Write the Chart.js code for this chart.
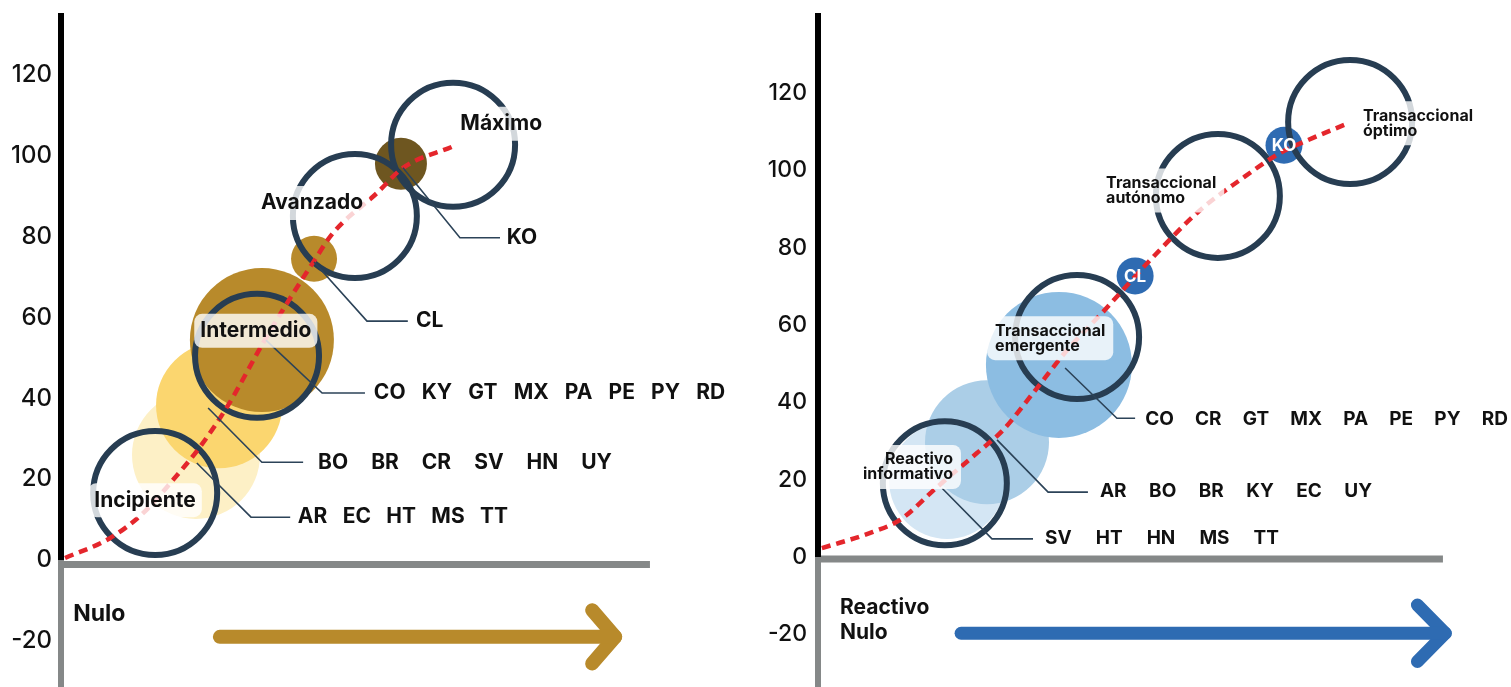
<!DOCTYPE html>
<html>
<head>
<meta charset="utf-8">
<script src="https://cdn.jsdelivr.net/npm/chart.js@4.4.0/dist/chart.umd.min.js"></script>
<style>
  body { margin: 0; background: #fff; width: 1511px; height: 687px; overflow: hidden; position: relative; }
  .panel { position: absolute; top: 0; height: 687px; }
  #p1 { left: 0; width: 751px; }
  #p2 { left: 756px; width: 755px; }
</style>
</head>
<body>
<div class="panel" id="p1"><canvas id="c1"></canvas></div>
<div class="panel" id="p2"><canvas id="c2"></canvas></div>
<script>
// tick labels shared by both panels
const yTicks = [-20, 0, 20, 40, 60, 80, 100, 120];

// left panel: Nulo -> Máximo
const leftGroups = ['AR EC HT MS TT', 'BO BR CR SV HN UY', 'CO KY GT MX PA PE PY RD', 'CL', 'KO'];
const leftGroupX = [33.4, 39.1, 49.7, 62.6, 84.1];
const leftGroupY = [26.0, 38.3, 54.4, 74.5, 98.0];
const leftGroupR = [64, 63, 72, 23, 26];
const leftStages = ['Incipiente', 'Intermedio', 'Avanzado', 'Máximo'];
const leftStageX = [23.3, 48.5, 72.7, 97.0];
const leftStageY = [16.6, 50.5, 85.1, 102.7];
const leftCurveX = [1.0, 12.1, 20.3, 27.7, 34.4, 41.1, 50.0, 54.9, 62.3, 67.3, 78.2, 84.6, 96.7];
const leftCurveY = [0.5, 5.4, 11.6, 19.8, 28.0, 37.9, 53.7, 61.9, 73.5, 80.9, 90.8, 97.0, 102.2];

// right panel: Reactivo Nulo -> Transaccional óptimo
const rightGroups = ['SV HT HN MS TT', 'AR BO BR KY EC UY', 'CO CR GT MX PA PE PY RD', 'CL', 'KO'];
const rightGroupX = [33.4, 43.7, 62.3, 82.0, 120.5];
const rightGroupY = [19.7, 29.7, 49.7, 72.7, 106.5];
const rightGroupR = [58, 62, 73, 18.5, 18.5];
const rightStages = ['Reactivo informativo', 'Transaccional emergente', 'Transaccional autónomo', 'Transaccional óptimo'];
const rightStageX = [32.8, 67.0, 103.4, 137.6];
const rightStageY = [19.1, 56.9, 93.4, 112.5];
const rightCurveX = [1.0, 14.2, 21.2, 30.8, 41.1, 47.8, 55.6, 64.4, 73.7, 85.9, 98.8, 109.1, 119.5, 128.0, 137.1];
const rightCurveY = [2.3, 6.5, 9.6, 18.1, 26.9, 32.8, 42.4, 53.5, 63.4, 76.8, 89.7, 97.5, 104.5, 108.4, 112.2];

// layout / styling of each panel (label anchors in data units)
const leftLayout = {
  yMin: -31.4, yMax: 135.3, xMax: 170.7, axisW: 61, tickPad: 9, tickSize: 24,
  fills: ['#fdf0c6', '#fbd66f', '#b88a2b', '#b88a2b', '#6e5620'],
  axisEnd: 145.7, axisY: -1.1,
  leaders: [
    [[33.6, 24.0], [47.0, 10.6], [56.7, 10.6]],
    [[36.4, 37.6], [49.7, 24.2], [59.9, 24.2]],
    [[50.7, 54.4], [64.6, 41.3], [75.2, 41.3]],
    [[62.6, 73.7], [75.7, 59.1], [85.8, 59.1]],
    [[84.6, 97.0], [98.7, 79.7], [108.6, 79.7]]
  ],
  // [start x, y, end x] of each row of country codes
  codeAt: [[58.6, 10.6, 110.6], [63.6, 24.2, 136.3], [77.4, 41.3, 164.3], [87.8, 59.1, 0], [110.3, 79.7, 0]],
  codeSize: 21, inside: [],
  stageAt: [[20.8, 14.8, 'center'], [48.2, 56.7, 'center'], [62.1, 88.3, 'center'], [108.9, 107.9, 'center']],
  stageSize: 21, stageLineH: 22, stageSplit: false, stagePad: [6, 6],
  bottom: { lines: ['Nulo'], x: 3.0, y: -13.4, size: 23, lineH: 25 },
  arrowColor: '#b88a2b', arrowW: 14,
  shaft: [[39.3, -19.0], [137.1, -19.0]],
  head: [[131.4, -12.4], [137.1, -19.0], [131.4, -25.6]]
};

const rightLayout = {
  yMin: -33.6, yMax: 140.7, xMax: 179.2, axisW: 62, tickPad: 11, tickSize: 23,
  fills: ['#d4e6f4', '#abcee7', '#8cbde2', '#2e6bb2', '#2e6bb2'],
  axisEnd: 161.6, axisY: -0.5,
  leaders: [
    [[32.1, 17.8], [45.0, 4.7], [55.6, 4.7]],
    [[46.3, 30.3], [59.5, 16.8], [69.8, 16.8]],
    [[63.9, 48.9], [77.3, 35.9], [82.0, 35.9]]
  ],
  codeAt: [[58.7, 4.9, 119.2], [72.9, 17.1, 143.3], [84.6, 35.7, 178.4]],
  codeSize: 19, inside: [3, 4],
  stageAt: [[34.9, 23.3, 'right'], [45.8, 56.6, 'left'], [74.5, 94.8, 'left'], [140.9, 112.2, 'left']],
  stageSize: 16, stageLineH: 15, stageSplit: true, stagePad: [8, 7],
  bottom: { lines: ['Reactivo', 'Nulo'], x: 5.7, y: -16.2, size: 21, lineH: 25 },
  arrowColor: '#2e6bb2', arrowW: 13,
  shaft: [[37.0, -19.7], [162.2, -19.7]],
  head: [[155.0, -12.4], [162.2, -19.7], [155.0, -27.0]]
};

Chart.defaults.font.family = 'Inter, sans-serif';

const pts = arr => arr.map(p => ({ x: p[0], y: p[1] }));

function drawLines(ctx, lines, px, py, size, lineH, align, pad) {
  ctx.font = '700 ' + size + 'px Inter, sans-serif';
  const w = Math.max(...lines.map(l => ctx.measureText(l).width));
  const h = lineH * lines.length;
  const left = align === 'center' ? px - w / 2 : align === 'right' ? px - w : px;
  if (pad) {
    ctx.fillStyle = 'rgba(255,255,255,0.8)';
    ctx.beginPath();
    ctx.roundRect(left - pad[0], py - h / 2 - pad[1], w + 2 * pad[0], h + 2 * pad[1], 8);
    ctx.fill();
  }
  ctx.fillStyle = '#111';
  ctx.textAlign = align;
  ctx.textBaseline = 'middle';
  lines.forEach((l, i) => ctx.fillText(l, px, py - h / 2 + lineH * (i + 0.5)));
}

function buildChart(id, L, groups, gx, gy, gr, stages, sx, sy, cx, cy) {
  const datasets = [];
  const line = (data, color, width, order, extra) => Object.assign({
    type: 'line', data: pts(data), borderColor: color, borderWidth: width,
    pointRadius: 0, fill: false, clip: false, order: order
  }, extra || {});

  // axes drawn as lines
  datasets.push(line([[0, L.yMax], [0, 0]], '#000', 6, 100));
  datasets.push(line([[0, 0], [0, L.yMin]], '#858888', 6, 100));
  datasets.push(line([[0, L.axisY], [L.axisEnd, L.axisY]], '#858888', 7, 100));

  // country group bubbles
  datasets.push({
    type: 'bubble',
    data: gx.map((x, i) => ({ x: x, y: gy[i], r: gr[i] })),
    backgroundColor: L.fills, borderWidth: 0, clip: false, order: 90
  });
  // stage rings
  datasets.push({
    type: 'bubble',
    data: sx.map((x, i) => ({ x: x, y: sy[i], r: 62 })),
    backgroundColor: 'rgba(0,0,0,0)', borderColor: '#273d52', borderWidth: 6, clip: false, order: 80
  });
  // trend
  datasets.push(line(cx.map((x, i) => [x, cy[i]]), '#e4262c', 4.5, 70,
    { borderDash: [9, 6], cubicInterpolationMode: 'monotone' }));
  // leader lines
  L.leaders.forEach(ld => datasets.push(line(ld, '#2c4358', 1.6, 60)));
  // arrow
  datasets.push(line(L.shaft, L.arrowColor, L.arrowW, 60, { borderCapStyle: 'round' }));
  datasets.push(line(L.head, L.arrowColor, L.arrowW, 60, { borderCapStyle: 'round', borderJoinStyle: 'round' }));

  const notes = {
    id: 'notes',
    afterDatasetsDraw(chart) {
      const ctx = chart.ctx, xs = chart.scales.x, ys = chart.scales.y;
      ctx.save();
      // stage labels
      stages.forEach((s, i) => {
        const a = L.stageAt[i];
        const lines = L.stageSplit ? s.split(' ') : [s];
        drawLines(ctx, lines, xs.getPixelForValue(a[0]), ys.getPixelForValue(a[1]),
          L.stageSize, L.stageLineH, a[2], L.stagePad);
      });
      // country codes, spread between start and end of the row
      ctx.font = '700 ' + L.codeSize + 'px Inter, sans-serif';
      ctx.textAlign = 'left';
      ctx.textBaseline = 'middle';
      ctx.fillStyle = '#111';
      L.codeAt.forEach((a, i) => {
        const codes = groups[i].split(' ');
        let x = xs.getPixelForValue(a[0]);
        const y = ys.getPixelForValue(a[1]);
        const widths = codes.map(c => ctx.measureText(c).width);
        let gap = 0;
        if (codes.length > 1) {
          const span = xs.getPixelForValue(a[2]) - x;
          gap = (span - widths.reduce((s, w) => s + w, 0)) / (codes.length - 1);
        }
        codes.forEach((c, j) => {
          ctx.fillText(c, x, y);
          x += widths[j] + gap;
        });
      });
      // codes written inside small bubbles
      ctx.font = '700 17px Inter, sans-serif';
      ctx.textAlign = 'center';
      ctx.fillStyle = '#fff';
      L.inside.forEach(i => {
        ctx.fillText(groups[i], xs.getPixelForValue(gx[i]), ys.getPixelForValue(gy[i]) + 1);
      });
      // bottom caption
      const b = L.bottom;
      drawLines(ctx, b.lines, xs.getPixelForValue(b.x), ys.getPixelForValue(b.y), b.size, b.lineH, 'left', null);
      ctx.restore();
    }
  };

  return new Chart(document.getElementById(id), {
    type: 'bubble',
    data: { datasets: datasets },
    options: {
      responsive: true,
      maintainAspectRatio: false,
      animation: false,
      events: [],
      layout: { autoPadding: false, padding: { top: 13, bottom: 0, left: 0, right: 0 } },
      plugins: { legend: { display: false }, tooltip: { enabled: false } },
      scales: {
        x: { type: 'linear', min: 0, max: L.xMax, display: false },
        y: {
          type: 'linear', min: L.yMin, max: L.yMax,
          afterBuildTicks: s => { s.ticks = yTicks.map(v => ({ value: v })); },
          afterFit: s => { s.width = L.axisW; s.paddingTop = 0; s.paddingBottom = 0; },
          grid: { display: false, drawTicks: false, tickLength: 0 },
          border: { display: false },
          ticks: { color: '#111', padding: L.tickPad, font: { size: L.tickSize, weight: '500' } }
        }
      }
    },
    plugins: [notes]
  });
}

buildChart('c1', leftLayout, leftGroups, leftGroupX, leftGroupY, leftGroupR,
  leftStages, leftStageX, leftStageY, leftCurveX, leftCurveY);
buildChart('c2', rightLayout, rightGroups, rightGroupX, rightGroupY, rightGroupR,
  rightStages, rightStageX, rightStageY, rightCurveX, rightCurveY);
</script>
</body>
</html>
